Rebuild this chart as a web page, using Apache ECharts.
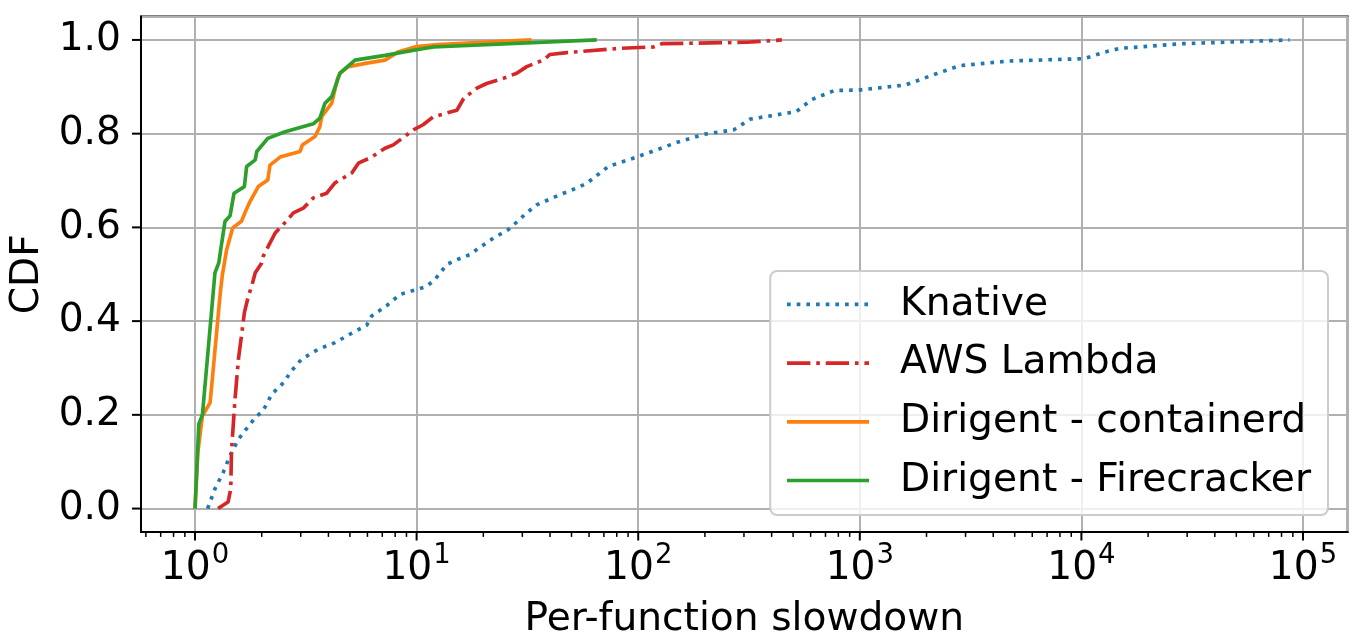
<!DOCTYPE html>
<html>
<head>
<meta charset="utf-8">
<script src="https://cdn.jsdelivr.net/npm/echarts@6/dist/echarts.min.js"></script>
<style>
html,body{margin:0;padding:0;background:#fff;}
#chart{width:1358px;height:643px;}
</style>
</head>
<body>
<div id="chart"></div>
<script>
// ---- data ----
const seriesNames = ['Knative', 'AWS Lambda', 'Dirigent - containerd', 'Dirigent - Firecracker'];

const knativeX = [1.14,1.23,1.34,1.44,1.57,1.68,1.87,2.03,2.22,2.55,2.68,3.03,3.6,4.28,5.0,5.95,6.27,7.33,8.42,11.1,12.1,13.7,15.2,17.4,18.7,22.2,25.9,27.5,31.4,34.8,44.4,52.8,58.6,73.3,98.4,149,200,269,320,517,608,767,989,1611,2129,2812,4688,10310,12700,14930,28590,87000];
const knativeY = [0.0,0.042,0.077,0.113,0.148,0.166,0.194,0.209,0.244,0.272,0.29,0.319,0.34,0.354,0.372,0.391,0.411,0.433,0.457,0.474,0.489,0.521,0.531,0.542,0.553,0.577,0.595,0.606,0.631,0.648,0.670,0.684,0.694,0.730,0.750,0.781,0.799,0.808,0.831,0.847,0.873,0.892,0.893,0.904,0.925,0.945,0.955,0.960,0.974,0.982,0.992,1.0];

const lambdaX = [1.27,1.41,1.45,1.46,1.515,1.57,1.62,1.67,1.74,1.80,1.87,2.0,2.03,2.18,2.30,2.50,2.78,3.08,3.42,3.93,4.28,5.1,5.46,6.27,7.2,7.85,9.67,10.7,11.9,15.2,16.3,18.7,20.7,24.6,28.3,31.4,37.3,40,47.6,82.7,117,128,309,445];
const lambdaY = [0.0,0.014,0.042,0.12,0.233,0.319,0.368,0.418,0.453,0.474,0.503,0.524,0.538,0.567,0.588,0.606,0.631,0.641,0.663,0.673,0.695,0.716,0.737,0.750,0.769,0.776,0.808,0.819,0.836,0.850,0.875,0.897,0.907,0.918,0.929,0.943,0.957,0.969,0.973,0.982,0.985,0.992,0.995,1.0];

const containerdX = [1.0,1.03,1.08,1.17,1.30,1.33,1.39,1.48,1.62,1.68,1.77,1.93,2.13,2.18,2.42,2.98,3.05,3.48,3.66,3.73,4.14,4.40,4.51,4.92,6.05,7.2,8.3,10,12.5,33];
const containerdY = [0.0,0.12,0.198,0.226,0.46,0.50,0.553,0.599,0.613,0.631,0.655,0.687,0.701,0.733,0.750,0.762,0.776,0.794,0.815,0.836,0.865,0.918,0.929,0.943,0.951,0.957,0.975,0.986,0.990,1.0];

const firecrackerX = [1.0,1.04,1.08,1.23,1.28,1.32,1.366,1.44,1.50,1.67,1.71,1.87,1.90,2.13,2.55,3.42,3.66,3.86,4.14,4.51,5.27,7.2,10,11.9,65];
const firecrackerY = [0.0,0.18,0.2,0.503,0.524,0.567,0.613,0.625,0.673,0.687,0.730,0.744,0.762,0.790,0.804,0.821,0.833,0.865,0.879,0.929,0.957,0.967,0.979,0.985,1.0];

const xMajorTicks = [1, 10, 100, 1000, 10000, 100000];
const xMinorTicks = [0.6,0.7,0.8,0.9,
  2,3,4,5,6,7,8,9,
  20,30,40,50,60,70,80,90,
  200,300,400,500,600,700,800,900,
  2000,3000,4000,5000,6000,7000,8000,9000,
  20000,30000,40000,50000,60000,70000,80000,90000];
const yMajorTicks = [0, 0.2, 0.4, 0.6, 0.8, 1.0];
const yTickLabels = ['0.0','0.2','0.4','0.6','0.8','1.0'];

// ---- chart ----
const FONT = 'DejaVu Sans';
const FS = 39.2;
const colors = ['#1f77b4', '#d62728', '#ff7f0e', '#2ca02c'];
const LW = 3.65;
const X_MIN = 0.5705, X_MAX = 159100;
const Y_MIN = -0.05, Y_MAX = 1.05;

function zip(xs, ys) { return xs.map((x, i) => [x, ys[i]]); }

const chart = echarts.init(document.getElementById('chart'), null, {renderer: 'canvas'});

// tick marks drawn with a custom series through the axes' own scales
function tickSeries(name, xVals, yVals) {
  const data = [];
  xVals.forEach(function (v) { data.push([v, 0.5, 0]); });
  yVals.forEach(function (v) { data.push([10, v, 1]); });
  return {
    name: name, type: 'custom', silent: true, clip: false, z: 5,
    encode: {x: 0, y: 1},
    data: data,
    renderItem: function (params, api) {
      const cs = params.coordSys;
      const p = api.coord([api.value(0), api.value(1)]);
      const kind = api.value(2);
      if (kind === 0) {
        const yb = cs.y + cs.height;
        const minor = xMajorTicks.indexOf(api.value(0)) < 0;
        const len = minor ? 4.9 : 8.5;
        return {type: 'line', shape: {x1: p[0], y1: yb, x2: p[0], y2: yb + len},
                style: {stroke: '#000', lineWidth: minor ? 1.5 : 2}};
      }
      return {type: 'rect', shape: {x: cs.x - 9, y: p[1] - 1, width: 9, height: 2},
              style: {fill: '#000'}};
    }
  };
}

const option = {
  animation: false,
  backgroundColor: '#ffffff',
  textStyle: {fontFamily: FONT},
  grid: {
    left: 141, right: 10.3, top: 16.5, bottom: 111,
    containLabel: false,
    outerBoundsMode: 'none',
    show: true,
    borderColor: '#000',
    borderWidth: 2,
    backgroundColor: 'transparent'
  },
  legend: {
    data: seriesNames,
    orient: 'vertical',
    right: 30,
    bottom: 128,
    padding: [14, 17, 15, 15],
    itemWidth: 82,
    itemHeight: 14,
    itemGap: 19.7,
    backgroundColor: 'rgba(255,255,255,0.8)',
    borderColor: '#cccccc',
    borderWidth: 2,
    borderRadius: 7,
    itemStyle: {opacity: 0},
    lineStyle: {width: LW},
    textStyle: {fontFamily: FONT, fontSize: FS, color: '#000', lineHeight: 38, padding: [0, 0, 0, 26]}
  },
  xAxis: {
    type: 'log',
    logBase: 10,
    min: X_MIN,
    max: X_MAX,
    name: 'Per-function slowdown',
    nameLocation: 'middle',
    nameGap: 68,
    nameTextStyle: {fontFamily: FONT, fontSize: FS, color: '#000'},
    axisLine: {show: true, onZero: false, lineStyle: {color: '#000', width: 2}},
    axisTick: {show: false},
    splitLine: {show: true, lineStyle: {color: '#b0b0b0', width: 2}},
    axisLabel: {
      show: true,
      showMinLabel: false,
      showMaxLabel: false,
      margin: 10,
      color: '#000',
      formatter: function (v) {
        const e = Math.round(Math.log10(v));
        return '{b|10}{s|' + e + '}';
      },
      rich: {
        b: {fontFamily: FONT, fontSize: FS, color: '#000', lineHeight: 46, verticalAlign: 'bottom'},
        s: {fontFamily: FONT, fontSize: 27.5, color: '#000', lineHeight: 46, verticalAlign: 'top', padding: [0, 0, 0, 1]}
      }
    }
  },
  yAxis: {
    type: 'value',
    min: Y_MIN,
    max: Y_MAX,
    splitNumber: 5,
    name: 'CDF',
    nameLocation: 'middle',
    nameGap: 90,
    nameRotate: 90,
    nameTextStyle: {fontFamily: FONT, fontSize: FS, color: '#000'},
    axisLine: {show: true, onZero: false, lineStyle: {color: '#000', width: 2}},
    axisTick: {show: false},
    splitLine: {show: true, lineStyle: {color: '#b0b0b0', width: 2}},
    axisLabel: {
      show: true,
      showMinLabel: false,
      showMaxLabel: false,
      margin: 20,
      fontFamily: FONT,
      fontSize: FS,
      color: '#000',
      formatter: function (v) {
        const i = Math.round(v / 0.2);
        if (Math.abs(v - i * 0.2) > 1e-6) return '';
        return yTickLabels[i] !== undefined ? yTickLabels[i] : '';
      }
    }
  },
  series: [
    {
      name: seriesNames[0], type: 'line', symbol: 'none', z: 3,
      color: colors[0],
      lineStyle: {color: colors[0], width: LW, type: [LW, LW * 1.65], cap: 'butt'},
      data: zip(knativeX, knativeY)
    },
    {
      name: seriesNames[1], type: 'line', symbol: 'none', z: 3,
      color: colors[1],
      lineStyle: {color: colors[1], width: LW, type: [LW * 6.4, LW * 1.6, LW, LW * 1.6], cap: 'butt'},
      data: zip(lambdaX, lambdaY)
    },
    {
      name: seriesNames[2], type: 'line', symbol: 'none', z: 3,
      color: colors[2],
      lineStyle: {color: colors[2], width: LW, type: 'solid'},
      data: zip(containerdX, containerdY)
    },
    {
      name: seriesNames[3], type: 'line', symbol: 'none', z: 3,
      color: colors[3],
      lineStyle: {color: colors[3], width: LW, type: 'solid'},
      data: zip(firecrackerX, firecrackerY)
    },
    tickSeries('ticks', xMajorTicks.concat(xMinorTicks), yMajorTicks)
  ]
};

chart.setOption(option);
</script>
</body>
</html>
